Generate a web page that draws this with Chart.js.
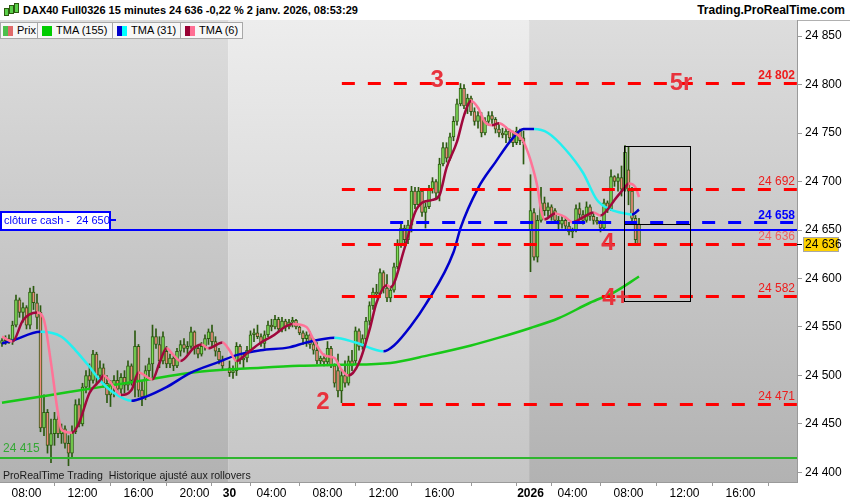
<!DOCTYPE html>
<html>
<head>
<meta charset="utf-8">
<script src="https://cdn.jsdelivr.net/npm/chart.js@4.4.1/dist/chart.umd.min.js"></script>
<style>
body { margin: 0; width: 850px; height: 500px; overflow: hidden; background: #fff; font-family: "Liberation Sans", Arial, sans-serif; }
#top { position: absolute; left: 0; top: 0; width: 850px; height: 21px; border-bottom: 1px solid #b0b0b0; box-sizing: border-box; background: #fff; }
#title { position: absolute; left: 23px; top: 4px; font-size: 11px; font-weight: bold; color: #000; white-space: nowrap; }
#brand { position: absolute; right: 5px; top: 3px; font-size: 12px; font-weight: bold; color: #000; white-space: nowrap; }
.ic { position: absolute; width: 3px; background: #5ad04a; border: 1px solid #2c5a10; }
#wrap { position: absolute; left: 0; top: 20px; width: 850px; height: 480px; }
.leg { position: absolute; top: 22px; height: 17px; background: #f7f7f7; border: 1px solid #a8a8a8; box-sizing: border-box; font-size: 11px; line-height: 15px; color: #000; z-index: 2; white-space: nowrap; }
.leg i { position: absolute; top: 3px; width: 5px; height: 10px; }
.leg span { position: absolute; top: 0; }
</style>
</head>
<body>
<div id="top">
  <div class="ic" style="left:4px;top:8px;height:6px"></div>
  <div class="ic" style="left:9px;top:5px;height:7px"></div>
  <div class="ic" style="left:14px;top:3px;height:8px"></div>
  <div id="title">DAX40 Full0326 15 minutes 24 636 -0,22 % 2 janv. 2026, 08:53:29</div>
  <div id="brand">Trading.ProRealTime.com</div>
</div>
<div class="leg" style="left:0;width:38px"><i style="left:2px;background:#4cc04c"></i><i style="left:7px;background:#e06a6a"></i><span style="left:16px">Prix</span></div>
<div class="leg" style="left:37px;width:76px"><i style="left:4px;width:10px;background:#00cc00"></i><span style="left:18px">TMA (155)</span></div>
<div class="leg" style="left:112px;width:69px"><i style="left:4px;background:#0000cc"></i><i style="left:9px;background:#00ffff"></i><span style="left:18px">TMA (31)</span></div>
<div class="leg" style="left:180px;width:63px"><i style="left:4px;background:#990033"></i><i style="left:9px;background:#ff6f94"></i><span style="left:18px">TMA (6)</span></div>
<div id="wrap"><canvas id="chart"></canvas></div>
<script>
// sessions (bar index of first bar, number of 15 min bars): 29 déc., 30 déc., 2 janv.
const sessionStart = [0, 65, 151];
const sessionBars = [64, 85, 32];
const bandEdges = [-0.57, 64.6, 150.6, 227.14];

const open = [
  // 29 déc.
  24533, 24536, 24538, 24535, 24552, 24578, 24565, 24570, 24552, 24586,
  24575, 24565, 24446, 24462, 24428, 24440, 24455, 24440, 24445, 24430,
  24420, 24442, 24470, 24450, 24488, 24500, 24495, 24522, 24500, 24508,
  24492, 24480, 24490, 24495, 24486, 24498, 24490, 24510, 24495, 24530,
  24485, 24478, 24505, 24512, 24540, 24532, 24515, 24525, 24512, 24518,
  24510, 24525, 24532, 24528, 24530, 24545, 24528, 24522, 24530, 24538,
  24545, 24535, 24525, 24516,
  // 30 déc.
  24508, 24503, 24505, 24530, 24516, 24518, 24526, 24542, 24544, 24540,
  24533, 24542, 24552, 24550, 24558, 24548, 24556, 24550, 24555, 24557,
  24550, 24544, 24538, 24542, 24532, 24526, 24515, 24518, 24514, 24528,
  24510, 24505, 24484, 24500, 24492, 24515, 24515, 24546, 24530, 24538,
  24556, 24572, 24586, 24584, 24606, 24590, 24580, 24588, 24612, 24636,
  24652, 24640, 24655, 24690, 24676, 24690, 24668, 24674, 24692, 24700,
  24688, 24718, 24735, 24724, 24746, 24762, 24780, 24796, 24778, 24786,
  24772, 24762, 24768, 24750, 24762, 24768, 24764, 24754, 24750, 24748,
  24752, 24745, 24740, 24752, 24745,
  // 2 janv.
  24650, 24668, 24622, 24660, 24678, 24670, 24674, 24670, 24660, 24656,
  24660, 24654, 24648, 24650, 24672, 24666, 24660, 24674, 24664, 24660,
  24658, 24652, 24678, 24672, 24705, 24700, 24704, 24692, 24712, 24690,
  24662, 24656
];
const high = [
  24538, 24541, 24542, 24556, 24583, 24580, 24575, 24572, 24590, 24592,
  24584, 24572, 24480, 24465, 24455, 24462, 24460, 24450, 24448, 24438,
  24448, 24475, 24476, 24492, 24505, 24512, 24526, 24524, 24515, 24512,
  24500, 24495, 24500, 24505, 24502, 24505, 24515, 24512, 24546, 24532,
  24495, 24510, 24518, 24552, 24548, 24540, 24545, 24530, 24522, 24520,
  24528, 24536, 24538, 24535, 24550, 24546, 24530, 24534, 24542, 24548,
  24552, 24540, 24528, 24520,
  24515, 24510, 24534, 24532, 24522, 24530, 24546, 24548, 24552, 24543,
  24546, 24556, 24558, 24562, 24560, 24560, 24558, 24558, 24560, 24558,
  24551, 24546, 24545, 24545, 24538, 24534, 24520, 24522, 24535, 24530,
  24512, 24522, 24506, 24515, 24520, 24526, 24550, 24548, 24542, 24560,
  24576, 24590, 24594, 24610, 24608, 24604, 24592, 24616, 24640, 24658,
  24655, 24660, 24695, 24694, 24694, 24692, 24678, 24696, 24704, 24702,
  24724, 24740, 24740, 24750, 24767, 24785, 24801, 24800, 24790, 24788,
  24776, 24772, 24771, 24766, 24772, 24772, 24766, 24760, 24755, 24756,
  24754, 24752, 24756, 24754, 24752,
  24707, 24672, 24665, 24694, 24684, 24678, 24676, 24672, 24664, 24664,
  24662, 24658, 24652, 24676, 24678, 24670, 24679, 24676, 24668, 24663,
  24660, 24682, 24680, 24712, 24706, 24708, 24716, 24737, 24736, 24694,
  24665, 24662
];
const low = [
  24530, 24532, 24533, 24532, 24550, 24560, 24555, 24548, 24548, 24568,
  24548, 24442, 24438, 24420, 24410, 24428, 24436, 24430, 24425, 24407,
  24415, 24440, 24447, 24448, 24482, 24485, 24492, 24490, 24494, 24488,
  24472, 24468, 24478, 24482, 24480, 24482, 24485, 24490, 24478, 24478,
  24469, 24475, 24498, 24498, 24528, 24508, 24512, 24508, 24508, 24505,
  24508, 24520, 24524, 24522, 24528, 24522, 24518, 24520, 24526, 24532,
  24530, 24520, 24512, 24505,
  24499, 24497, 24500, 24512, 24508, 24514, 24524, 24535, 24538, 24530,
  24528, 24540, 24546, 24548, 24545, 24545, 24546, 24548, 24550, 24548,
  24542, 24532, 24530, 24528, 24522, 24512, 24512, 24510, 24510, 24508,
  24488, 24478, 24472, 24488, 24490, 24505, 24512, 24526, 24527, 24536,
  24552, 24568, 24580, 24582, 24585, 24576, 24576, 24586, 24610, 24632,
  24635, 24636, 24648, 24672, 24674, 24664, 24652, 24672, 24688, 24683,
  24680, 24716, 24720, 24722, 24742, 24758, 24778, 24775, 24770, 24768,
  24758, 24755, 24746, 24748, 24758, 24760, 24750, 24746, 24745, 24740,
  24742, 24736, 24738, 24738, 24718,
  24607, 24619, 24617, 24658, 24665, 24664, 24660, 24657, 24650, 24652,
  24650, 24645, 24642, 24648, 24662, 24656, 24658, 24660, 24656, 24656,
  24648, 24650, 24668, 24670, 24695, 24690, 24685, 24690, 24676, 24657,
  24634, 24634
];
const close = [
  24536, 24538, 24535, 24552, 24578, 24565, 24570, 24552, 24586, 24575,
  24560, 24446, 24462, 24428, 24440, 24455, 24440, 24445, 24430, 24420,
  24442, 24470, 24450, 24488, 24500, 24495, 24522, 24500, 24508, 24492,
  24480, 24490, 24495, 24486, 24498, 24490, 24510, 24495, 24530, 24485,
  24478, 24505, 24512, 24540, 24532, 24515, 24540, 24512, 24518, 24510,
  24525, 24532, 24528, 24530, 24545, 24528, 24522, 24530, 24538, 24545,
  24535, 24525, 24516, 24510,
  24503, 24505, 24530, 24516, 24518, 24526, 24542, 24544, 24540, 24533,
  24542, 24552, 24550, 24558, 24548, 24556, 24550, 24555, 24557, 24550,
  24544, 24538, 24542, 24532, 24526, 24515, 24518, 24514, 24528, 24510,
  24492, 24484, 24500, 24492, 24515, 24510, 24546, 24530, 24538, 24556,
  24572, 24586, 24584, 24606, 24590, 24580, 24588, 24612, 24636, 24652,
  24640, 24655, 24690, 24676, 24690, 24668, 24674, 24692, 24700, 24688,
  24718, 24735, 24724, 24746, 24762, 24780, 24796, 24778, 24786, 24772,
  24762, 24768, 24750, 24762, 24768, 24764, 24754, 24750, 24748, 24752,
  24745, 24740, 24752, 24742, 24740,
  24670, 24622, 24660, 24678, 24670, 24674, 24664, 24660, 24656, 24660,
  24654, 24648, 24650, 24672, 24666, 24660, 24674, 24664, 24660, 24658,
  24652, 24678, 24672, 24705, 24700, 24704, 24692, 24730, 24690, 24662,
  24640, 24636
];

// moving averages (bar index, value)
const tma155Idx = [0, 14, 28, 37, 57, 74, 85, 97, 111, 122, 134, 142, 151, 159, 168, 175, 182];
const tma155Val = [24472, 24480, 24488, 24493, 24504, 24508, 24510, 24511, 24513, 24521, 24531, 24539, 24549, 24559, 24575, 24586, 24602];
const tma31Idx = [0, 3, 11, 17, 21, 25, 28, 32, 37, 41, 47, 54, 62, 67, 74, 82, 87, 95, 101, 109, 112, 117, 121, 129, 131, 136, 141, 146, 149, 152, 156, 161, 166, 170, 174, 178, 180, 182];
const tma31Val = [24533, 24536, 24545, 24540, 24526, 24509, 24495, 24482, 24474, 24478, 24488, 24503, 24514, 24521, 24526, 24529, 24534, 24539, 24534, 24525, 24531, 24552, 24573, 24627, 24652, 24693, 24720, 24745, 24754, 24754, 24750, 24733, 24709, 24681, 24671, 24667, 24666, 24671];
const tma6Idx = [0, 3, 6, 10, 12, 14, 16, 17, 20, 22, 25, 28, 29, 32, 34, 37, 39, 43, 45, 47, 49, 51, 55, 57, 59, 63, 65, 67, 70, 74, 77, 83, 87, 89, 92, 95, 97, 99, 102, 105, 107, 110, 111, 115, 118, 120, 123, 125, 127, 130, 132, 134, 136, 138, 140, 142, 145, 148, 149, 151, 153, 154, 155, 158, 161, 163, 166, 169, 171, 173, 175, 178, 179, 181, 182];
const tma6Val = [24540, 24535, 24557, 24565, 24557, 24513, 24461, 24444, 24441, 24451, 24482, 24495, 24500, 24488, 24480, 24485, 24503, 24496, 24513, 24528, 24521, 24515, 24529, 24532, 24528, 24534, 24526, 24515, 24523, 24534, 24540, 24553, 24550, 24537, 24521, 24518, 24506, 24500, 24513, 24547, 24575, 24593, 24591, 24631, 24668, 24678, 24681, 24686, 24714, 24741, 24768, 24783, 24776, 24761, 24758, 24760, 24753, 24746, 24741, 24722, 24694, 24671, 24661, 24667, 24663, 24658, 24663, 24668, 24665, 24671, 24681, 24694, 24698, 24694, 24684];

// axes
const xTickPos = [7, 23, 39, 55, 65, 77, 93, 109, 125, 143, 151, 163, 179, 195, 211];
const xTickText = ['08:00', '12:00', '16:00', '20:00', '30', '04:00', '08:00', '12:00', '16:00', '', '2026', '04:00', '08:00', '12:00', '16:00'];
const yTickVals = [24400, 24450, 24500, 24550, 24600, 24650, 24700, 24750, 24800, 24850];

// drawn levels and notes
const levelVals = [24802, 24692, 24636, 24582, 24471];
const levelFrom = 97.1;
const cashClose = 24650;
const target = 24658;
const targetFrom = 110.9;
const support = 24415;
const lastPrice = 24636;
const annText = ['2', '3', '4', '4+', '5r'];
const annIdx = [91.7, 124.3, 173.1, 175.4, 194.0];
const annVal = [24472.7, 24804.6, 24636.6, 24579.9, 24801.5];
const boxIdx = [177.7, 196.6];
const boxVal = [24576.8, 24736.6, 24656.2];

const FONT = '"Liberation Sans", Arial, sans-serif';
const fmt = v => String(Math.round(v)).replace(/\B(?=(\d{3})+(?!\d))/g, ' ');

const candleX = [];
sessionStart.forEach((s, k) => {
    for (let j = 0; j < sessionBars[k]; j++) candleX.push(s + j);
});

const pts = (idx, val) => idx.map((v, i) => ({ x: v, y: val[i] }));
const slope = (up, down) => c => c.p1.parsed.y >= c.p0.parsed.y ? up : down;

const decor = {
    id: 'decor',
    beforeDraw(chart) {
        const { ctx, chartArea: a, scales: { x } } = chart;
        ctx.save();
        for (let k = 0; k < bandEdges.length - 1; k++) {
            const x0 = Math.max(a.left, x.getPixelForValue(bandEdges[k]));
            const x1 = Math.min(a.right, x.getPixelForValue(bandEdges[k + 1]));
            const g = ctx.createLinearGradient(0, a.top, 0, a.bottom);
            if (k % 2 === 1) { g.addColorStop(0, '#ededed'); g.addColorStop(1, '#c5c5c5'); }
            else { g.addColorStop(0, '#dddddd'); g.addColorStop(1, '#b2b2b2'); }
            ctx.fillStyle = g;
            ctx.fillRect(x0, a.top, x1 - x0, a.bottom - a.top);
        }
        ctx.restore();
    },
    afterDatasetsDraw(chart) {
        const { ctx, chartArea: a, scales: { x, y } } = chart;
        ctx.save();
        // red dashed levels
        ctx.lineWidth = 3;
        ctx.strokeStyle = '#ff0000';
        ctx.setLineDash([13, 13]);
        levelVals.forEach(v => {
            const py = Math.round(y.getPixelForValue(v)) + 0.5;
            ctx.beginPath();
            ctx.moveTo(x.getPixelForValue(levelFrom), py);
            ctx.lineTo(a.right, py);
            ctx.stroke();
        });
        // blue dashed target
        ctx.strokeStyle = '#0000ff';
        const ty = Math.round(y.getPixelForValue(target)) + 0.5;
        ctx.beginPath();
        ctx.moveTo(x.getPixelForValue(targetFrom), ty);
        ctx.lineTo(a.right, ty);
        ctx.stroke();
        ctx.setLineDash([]);
        // blue cash close, green support
        ctx.lineWidth = 2;
        const cy = Math.round(y.getPixelForValue(cashClose));
        ctx.beginPath(); ctx.moveTo(a.left, cy); ctx.lineTo(a.right, cy); ctx.stroke();
        ctx.strokeStyle = '#2fb52f';
        const sy = Math.round(y.getPixelForValue(support));
        ctx.beginPath(); ctx.moveTo(a.left, sy); ctx.lineTo(a.right, sy); ctx.stroke();

        // level labels
        ctx.textAlign = 'right';
        ctx.textBaseline = 'alphabetic';
        levelVals.forEach((v, i) => {
            ctx.font = (i === 0 ? 'bold ' : '') + '12px ' + FONT;
            ctx.fillStyle = i === 2 ? '#f06060' : '#ee1c1c';
            ctx.fillText(fmt(v), a.right - 2, y.getPixelForValue(v) - 4);
        });
        ctx.font = 'bold 12px ' + FONT;
        ctx.fillStyle = '#0000ff';
        ctx.fillText(fmt(target), a.right - 2, ty - 4);

        // box
        ctx.strokeStyle = '#000';
        ctx.lineWidth = 1;
        const bx0 = Math.round(x.getPixelForValue(boxIdx[0])) + 0.5;
        const bx1 = Math.round(x.getPixelForValue(boxIdx[1])) + 0.5;
        const by0 = Math.round(y.getPixelForValue(boxVal[1])) + 0.5;
        const by1 = Math.round(y.getPixelForValue(boxVal[0])) + 0.5;
        ctx.strokeRect(bx0, by0, bx1 - bx0, by1 - by0);
        const bm = Math.round(y.getPixelForValue(boxVal[2])) + 0.5;
        ctx.beginPath(); ctx.moveTo(bx0, bm); ctx.lineTo(bx1, bm); ctx.stroke();

        // wave counts
        ctx.font = 'bold 24px ' + FONT;
        ctx.fillStyle = '#e8323c';
        ctx.textAlign = 'center';
        ctx.textBaseline = 'middle';
        annText.forEach((t, i) => ctx.fillText(t, x.getPixelForValue(annIdx[i]), y.getPixelForValue(annVal[i])));

        // left labels
        ctx.textAlign = 'left';
        ctx.font = '12px ' + FONT;
        ctx.fillStyle = '#34a834';
        ctx.fillText(fmt(support), a.left + 3, sy - 9);
        ctx.font = '10.6px ' + FONT;
        ctx.fillStyle = '#1a1a1a';
        ctx.fillText('ProRealTime Trading  Historique ajusté aux rollovers', a.left + 3, a.bottom - 6);

        ctx.fillStyle = '#fff';
        ctx.fillRect(a.left + 1, cy - 18, 109, 18);
        ctx.strokeStyle = '#0000ff';
        ctx.lineWidth = 2;
        ctx.strokeRect(a.left + 1, cy - 18, 109, 18);
        ctx.beginPath(); ctx.moveTo(a.left + 110, cy - 10); ctx.lineTo(a.left + 116, cy - 10); ctx.stroke();
        ctx.font = '11px ' + FONT;
        ctx.fillStyle = '#0000ff';
        ctx.fillText('clôture cash -  ' + fmt(cashClose), a.left + 4, cy - 9);
        ctx.restore();
    },
    afterDraw(chart) {
        const { ctx, chartArea: a, scales: { y } } = chart;
        const py = Math.round(y.getPixelForValue(lastPrice));
        ctx.save();
        ctx.strokeStyle = '#000';
        ctx.lineWidth = 1;
        ctx.beginPath(); ctx.moveTo(a.right, py + 0.5); ctx.lineTo(a.right + 5, py + 0.5); ctx.stroke();
        ctx.fillStyle = '#ffd200';
        ctx.fillRect(a.right + 6, py - 7, 35, 14);
        ctx.strokeStyle = '#a8a8a8';
        ctx.strokeRect(a.right + 6.5, py - 6.5, 35, 14);
        ctx.fillStyle = '#000';
        ctx.font = '12px ' + FONT;
        ctx.textBaseline = 'middle';
        ctx.fillText(fmt(lastPrice), a.right + 8, py + 1);
        ctx.restore();
    }
};

new Chart(document.getElementById('chart'), {
    type: 'bar',
    data: {
        datasets: [
            {
                type: 'line', label: 'TMA (6)', data: pts(tma6Idx, tma6Val),
                borderColor: '#a0083c', borderWidth: 2.5, pointRadius: 0,
                cubicInterpolationMode: 'monotone',
                segment: { borderColor: slope('#a0083c', '#ff7397') },
                order: 1
            },
            {
                type: 'line', label: 'TMA (31)', data: pts(tma31Idx, tma31Val),
                borderColor: '#0000cc', borderWidth: 2.5, pointRadius: 0,
                cubicInterpolationMode: 'monotone',
                segment: { borderColor: slope('#0000cc', '#22f0f0') },
                order: 2
            },
            {
                type: 'line', label: 'TMA (155)', data: pts(tma155Idx, tma155Val),
                borderColor: '#18c818', borderWidth: 2.5, pointRadius: 0,
                cubicInterpolationMode: 'monotone',
                order: 3
            },
            {
                label: 'Prix', data: candleX.map((v, i) => ({ x: v, y: [open[i], close[i]] })),
                backgroundColor: c => close[c.dataIndex] >= open[c.dataIndex] ? '#7edb57' : '#ee8a7c',
                borderColor: '#2c5a10', borderWidth: 1, borderSkipped: false,
                barThickness: 3, grouped: false, order: 4
            },
            {
                label: 'mèches', data: candleX.map((v, i) => ({ x: v, y: [low[i], high[i]] })),
                backgroundColor: '#2c5a10', barThickness: 1, grouped: false, order: 5
            }
        ]
    },
    options: {
        responsive: true,
        maintainAspectRatio: false,
        animation: false,
        layout: { padding: 0 },
        plugins: {
            legend: { display: false },
            tooltip: { enabled: false }
        },
        scales: {
            x: {
                type: 'linear', min: -0.57, max: 227.14, offset: false,
                grid: { drawOnChartArea: false, tickLength: 4, color: '#9a9a9a' },
                border: { color: '#9a9a9a' },
                afterBuildTicks: s => { s.ticks = xTickPos.map(v => ({ value: v })); },
                afterFit: s => { s.height = 18; s.paddingLeft = 0; s.paddingRight = 0; },
                ticks: {
                    autoSkip: false, maxRotation: 0, padding: 0, color: '#000',
                    font: c => {
                        const t = c.tick ? xTickText[xTickPos.indexOf(c.tick.value)] : '';
                        return { family: FONT, size: 12, weight: t && t.indexOf(':') < 0 ? 'bold' : 'normal' };
                    },
                    callback: v => xTickText[xTickPos.indexOf(v)]
                }
            },
            y: {
                position: 'right', min: 24390.2, max: 24866.5,
                grid: { drawOnChartArea: false, tickLength: 5, color: '#9a9a9a' },
                border: { color: '#9a9a9a' },
                afterBuildTicks: s => { s.ticks = yTickVals.map(v => ({ value: v })); },
                afterFit: s => { s.width = 53; s.paddingTop = 0; s.paddingBottom = 0; },
                ticks: {
                    padding: 3, color: '#000',
                    font: { family: FONT, size: 12 },
                    callback: v => fmt(v)
                }
            }
        }
    },
    plugins: [decor]
});
</script>
</body>
</html>
